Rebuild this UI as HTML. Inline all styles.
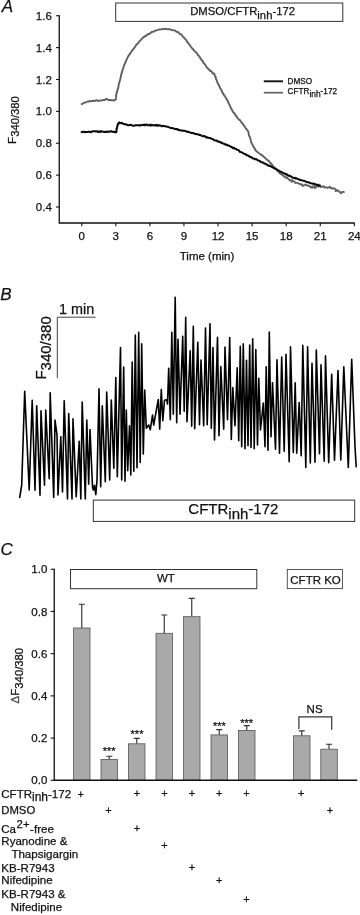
<!DOCTYPE html>
<html lang="en">
<head>
<meta charset="utf-8">
<title>Figure</title>
<style>
html,body{margin:0;padding:0;background:#fff;}
body{width:360px;height:915px;overflow:hidden;}
svg{display:block;}
svg text{font-family:'Liberation Sans', sans-serif;fill:#111;stroke:#111;stroke-width:0.25px;}
</style>
</head>
<body>
<svg width="360" height="915" viewBox="0 0 360 915">
<rect x="0" y="0" width="360" height="915" fill="#ffffff"/>
<g id="panelA">
<text x="1.65" y="11.7" font-size="17" text-anchor="start" font-style="italic">A</text>
<path d="M59.25,15.23 V223.0 H354.82" fill="none" stroke="#111" stroke-width="1.3"/>
<line x1="56.05" y1="15.73" x2="59.25" y2="15.73" stroke="#111" stroke-width="1.1"/>
<text x="51.8" y="19.83" font-size="11.5" text-anchor="end">1.6</text>
<line x1="56.05" y1="47.61" x2="59.25" y2="47.61" stroke="#111" stroke-width="1.1"/>
<text x="51.8" y="51.71" font-size="11.5" text-anchor="end">1.4</text>
<line x1="56.05" y1="79.49" x2="59.25" y2="79.49" stroke="#111" stroke-width="1.1"/>
<text x="51.8" y="83.59" font-size="11.5" text-anchor="end">1.2</text>
<line x1="56.05" y1="111.37" x2="59.25" y2="111.37" stroke="#111" stroke-width="1.1"/>
<text x="51.8" y="115.47" font-size="11.5" text-anchor="end">1.0</text>
<line x1="56.05" y1="143.25" x2="59.25" y2="143.25" stroke="#111" stroke-width="1.1"/>
<text x="51.8" y="147.35" font-size="11.5" text-anchor="end">0.8</text>
<line x1="56.05" y1="175.13" x2="59.25" y2="175.13" stroke="#111" stroke-width="1.1"/>
<text x="51.8" y="179.23" font-size="11.5" text-anchor="end">0.6</text>
<line x1="56.05" y1="207.01" x2="59.25" y2="207.01" stroke="#111" stroke-width="1.1"/>
<text x="51.8" y="211.11" font-size="11.5" text-anchor="end">0.4</text>
<line x1="81.75" y1="223.0" x2="81.75" y2="226.2" stroke="#111" stroke-width="1.1"/>
<text x="81.75" y="240.0" font-size="11.5" text-anchor="middle">0</text>
<line x1="115.82" y1="223.0" x2="115.82" y2="226.2" stroke="#111" stroke-width="1.1"/>
<text x="115.82" y="240.0" font-size="11.5" text-anchor="middle">3</text>
<line x1="149.89" y1="223.0" x2="149.89" y2="226.2" stroke="#111" stroke-width="1.1"/>
<text x="149.89" y="240.0" font-size="11.5" text-anchor="middle">6</text>
<line x1="183.96" y1="223.0" x2="183.96" y2="226.2" stroke="#111" stroke-width="1.1"/>
<text x="183.96" y="240.0" font-size="11.5" text-anchor="middle">9</text>
<line x1="218.03" y1="223.0" x2="218.03" y2="226.2" stroke="#111" stroke-width="1.1"/>
<text x="218.03" y="240.0" font-size="11.5" text-anchor="middle">12</text>
<line x1="252.10" y1="223.0" x2="252.10" y2="226.2" stroke="#111" stroke-width="1.1"/>
<text x="252.10" y="240.0" font-size="11.5" text-anchor="middle">15</text>
<line x1="286.18" y1="223.0" x2="286.18" y2="226.2" stroke="#111" stroke-width="1.1"/>
<text x="286.18" y="240.0" font-size="11.5" text-anchor="middle">18</text>
<line x1="320.25" y1="223.0" x2="320.25" y2="226.2" stroke="#111" stroke-width="1.1"/>
<text x="320.25" y="240.0" font-size="11.5" text-anchor="middle">21</text>
<line x1="354.32" y1="223.0" x2="354.32" y2="226.2" stroke="#111" stroke-width="1.1"/>
<text x="354.32" y="240.0" font-size="11.5" text-anchor="middle">24</text>
<text x="207" y="260" font-size="11.5" text-anchor="middle">Time (min)</text>
<g transform="translate(15.5,143.9) rotate(-90)">
<text x="0" y="0" font-size="11.5">F<tspan dy="3.8" font-size="11.25">340/380</tspan></text>
</g>
<rect x="115.7" y="3.0" width="227.1" height="18.4" fill="#fff" stroke="#333" stroke-width="1"/>
<text x="190.2" y="15" font-size="11.3">DMSO/CFTR<tspan dy="3.8">inh</tspan><tspan dy="-3.8">-172</tspan></text>
<line x1="263.8" y1="81.3" x2="283" y2="81.3" stroke="#111" stroke-width="1.9"/>
<line x1="263.8" y1="92.7" x2="283" y2="92.7" stroke="#626262" stroke-width="1.7"/>
<text x="287.6" y="84.4" font-size="8.2" text-anchor="start">DMSO</text>
<text x="287.6" y="94.4" font-size="8.2">CFTR<tspan dy="3" font-size="8.4">inh</tspan><tspan dy="-3">-172</tspan></text>
<polyline points="81.76,104.13 82.76,103.57 83.97,102.72 85.10,102.58 85.74,102.49 86.76,102.00 87.57,101.46 88.62,101.47 89.67,101.00 90.80,101.23 91.98,101.13 93.01,100.75 93.99,101.15 95.09,100.75 95.95,100.30 96.94,100.14 97.83,101.03 98.74,100.84 100.21,100.39 101.39,100.52 102.63,100.18 103.43,99.94 104.38,99.99 105.28,99.82 106.03,98.67 106.76,99.02 107.73,99.58 108.72,100.34 110.03,99.90 111.05,100.28 111.98,100.30 113.08,100.16 113.99,100.61 115.22,99.78 115.98,99.28 115.85,98.09 115.97,97.49 116.16,95.94 116.22,94.94 116.46,93.83 116.95,92.61 116.50,92.24 117.14,91.48 117.36,90.41 117.65,89.84 117.79,88.52 118.30,87.89 118.18,87.52 118.62,85.73 118.61,85.09 118.88,83.77 119.05,83.03 119.56,82.14 119.49,81.56 119.89,80.71 120.26,79.49 120.32,78.62 120.43,77.93 120.96,76.87 120.99,75.83 121.16,74.76 121.45,73.87 121.70,72.78 122.04,72.39 122.11,70.81 122.50,70.96 122.66,69.61 122.93,69.07 123.14,68.30 123.46,67.40 123.75,66.18 123.95,65.17 124.47,64.70 124.90,63.42 125.30,63.05 125.61,61.74 125.95,61.24 126.44,59.85 126.79,59.11 127.03,58.75 127.60,57.28 128.01,56.90 128.42,55.96 129.08,54.71 129.54,54.72 130.06,53.35 130.54,52.74 131.07,52.43 131.53,51.27 131.93,51.01 132.39,50.15 133.19,49.14 134.04,48.46 134.63,47.05 134.73,47.17 135.70,46.00 136.24,44.74 136.80,44.22 137.47,44.02 138.13,43.14 138.67,42.18 139.39,41.51 140.15,40.61 140.85,39.86 141.38,39.21 142.07,38.76 142.55,38.22 143.26,37.10 143.92,37.20 144.92,36.07 145.83,36.26 146.46,35.16 147.45,34.66 148.18,33.92 149.40,34.05 150.39,32.86 151.11,32.63 151.83,31.77 153.09,31.79 153.98,31.60 154.88,30.91 156.00,30.43 157.06,30.20 158.03,29.93 159.23,29.46 160.12,29.43 160.96,29.39 161.90,29.40 162.90,28.80 164.04,29.10 165.11,29.02 165.98,28.61 167.07,29.14 167.89,29.49 169.02,29.06 170.05,29.10 170.89,29.82 171.81,29.91 172.84,30.32 173.91,30.35 174.82,30.40 175.95,31.18 176.45,31.86 177.61,32.01 178.50,32.35 179.16,33.54 180.16,34.13 180.58,33.93 181.48,34.75 182.13,35.51 182.98,36.85 183.64,37.33 184.29,37.95 185.05,38.82 185.61,39.40 186.34,40.39 186.83,41.48 187.12,41.36 187.93,42.52 188.34,43.34 188.90,43.84 189.43,44.83 190.00,45.05 190.72,46.54 191.04,46.90 191.88,48.00 192.50,48.92 193.13,48.89 193.67,50.10 194.30,50.81 195.12,51.43 195.75,51.98 196.25,52.63 196.80,53.12 197.43,54.05 197.95,55.20 198.80,55.83 199.54,57.00 200.13,57.32 200.38,58.45 201.15,59.27 201.72,60.21 202.19,60.81 202.67,60.70 203.28,62.62 203.69,63.25 204.36,63.60 205.01,64.56 205.51,65.32 206.30,66.31 206.78,67.31 207.73,68.35 207.96,68.46 208.53,69.30 209.44,69.62 209.81,70.81 210.83,71.14 211.47,71.24 212.17,72.67 213.02,73.72 213.61,73.20 214.55,74.32 214.87,75.60 215.24,76.71 215.66,76.67 215.83,78.66 216.12,79.23 216.49,79.71 217.02,81.03 217.14,81.88 217.34,82.28 218.02,83.35 218.21,84.30 218.79,85.39 219.28,85.75 219.53,86.63 219.97,87.94 220.61,88.74 220.88,89.09 221.36,89.90 221.70,90.33 222.03,92.10 222.38,92.05 222.98,93.80 223.67,93.99 223.94,94.87 224.39,95.71 224.96,96.06 225.43,97.22 225.90,97.76 226.61,99.47 226.97,99.57 227.56,100.43 227.78,101.74 228.13,101.93 228.55,102.71 228.97,103.97 229.55,104.82 229.75,105.07 230.12,105.99 230.49,107.39 230.90,107.86 231.16,108.74 231.76,109.22 232.19,110.51 232.55,110.87 233.11,112.21 233.82,112.65 234.30,113.34 234.79,113.52 235.28,114.93 235.58,115.75 236.33,115.79 236.82,116.91 237.44,117.87 237.97,118.43 238.78,119.47 239.38,119.93 240.08,120.15 240.74,121.41 241.10,122.12 241.65,122.39 242.46,123.52 243.14,124.23 243.44,124.96 244.36,126.01 244.63,126.45 245.12,127.45 245.85,128.60 246.49,129.08 246.82,129.49 247.17,130.19 248.05,131.15 248.29,131.71 248.61,133.07 248.76,133.97 248.73,134.54 249.14,136.12 249.48,136.29 249.85,136.99 250.17,137.96 250.24,138.76 250.60,139.25 250.83,140.52 251.01,141.29 251.28,142.56 251.78,143.39 252.23,144.39 252.57,144.53 252.91,145.89 253.48,146.79 253.98,146.97 254.54,148.65 254.86,148.58 255.24,149.93 255.73,150.33 256.33,151.25 257.05,151.62 257.74,152.36 258.61,153.02 259.32,153.48 260.21,153.93 261.01,154.74 261.74,154.99 262.38,155.60 263.18,156.05 263.79,156.95 264.89,157.55 265.29,158.19 265.90,158.72 266.59,159.14 267.39,160.04 268.04,160.37 268.78,160.92 269.46,161.83 269.98,162.85 270.66,162.91 271.17,164.09 271.69,163.94 272.42,165.33 273.10,166.05 273.67,166.78 274.44,167.53 274.95,167.95 275.63,168.69 276.29,168.79 276.93,170.07 277.54,171.16 278.35,171.41 278.94,172.69 279.79,173.00 280.31,173.87 281.17,174.07 281.79,174.34 282.58,175.17 283.43,175.87 284.09,176.61 285.03,176.66 285.82,177.86 286.61,177.20 287.44,177.92 288.20,179.03 289.15,179.37 289.60,180.21 290.79,180.14 291.70,181.92 292.19,180.19 293.52,181.06 294.48,181.33 294.88,182.80 296.22,182.85 297.11,182.80 297.89,183.05 299.30,183.88 300.00,183.94 301.14,184.68 301.84,184.14 302.89,185.96 303.81,185.38 304.32,185.35 305.29,184.42 306.41,185.20 307.54,185.72 308.49,185.49 309.99,186.23 310.47,187.46 311.48,186.84 312.26,187.86 312.87,186.43 314.10,186.04 314.81,188.17 315.89,187.35 317.16,186.31 318.06,186.38 318.74,186.34 319.99,186.01 320.78,186.97 322.15,186.89 322.79,186.09 323.55,186.22 324.74,187.57 325.84,187.17 326.47,187.45 327.53,187.85 328.79,187.31 329.87,186.69 329.89,187.26 331.01,188.24 332.68,188.18 333.39,188.60 334.10,188.42 335.54,189.23 335.75,191.07 336.83,190.43 337.64,190.15 338.23,191.00 339.85,191.82 340.32,192.67 341.03,193.32 342.50,191.63 343.91,192.06" fill="none" stroke="#606060" stroke-width="1.9" stroke-linejoin="round" stroke-linecap="round"/>
<polyline points="81.63,132.21 82.86,131.84 83.82,131.77 84.99,132.30 86.05,132.04 87.00,132.01 87.93,132.04 88.87,131.80 90.07,131.80 90.96,132.23 92.01,131.42 93.02,131.33 93.96,131.27 95.20,131.26 96.02,131.48 97.20,131.31 97.94,132.04 98.85,131.39 100.07,132.11 100.91,130.99 101.99,131.49 102.82,131.76 103.81,131.74 104.67,132.01 105.79,131.72 106.53,131.91 107.55,131.49 108.35,131.98 109.29,131.61 110.22,131.65 111.10,131.15 112.17,131.65 112.97,131.88 114.16,131.68 115.29,132.28 116.31,132.15 116.63,130.56 116.52,130.07 116.57,128.87 117.03,128.26 117.16,126.53 117.54,126.14 117.58,125.12 117.91,123.81 118.55,123.81 119.17,122.44 120.14,122.98 121.13,123.23 121.87,122.72 123.02,123.82 124.12,123.97 124.94,124.35 125.84,124.24 126.90,124.82 128.21,125.19 129.01,125.16 129.83,125.09 130.67,124.69 131.48,125.08 132.58,125.67 133.53,125.84 134.30,125.66 135.45,125.35 136.28,125.26 136.92,125.28 137.92,125.23 138.95,125.25 139.79,125.66 141.14,125.03 141.91,125.09 143.07,125.16 144.04,124.54 144.89,125.34 146.02,124.62 146.91,124.64 147.90,125.30 148.98,125.28 150.02,124.62 150.84,125.63 151.74,124.82 152.85,125.16 153.64,125.55 154.37,125.33 155.35,124.92 156.28,125.61 157.26,124.90 158.07,125.80 159.20,125.18 160.25,125.41 160.79,125.65 161.91,126.28 162.83,125.94 163.58,125.86 164.54,126.26 165.48,126.27 166.31,126.55 167.15,126.65 168.08,126.83 169.15,127.34 169.86,127.63 170.94,128.10 171.80,127.90 172.66,128.21 173.69,128.45 174.52,128.78 175.46,128.93 176.27,129.14 177.17,129.10 178.20,130.08 179.19,129.77 179.98,130.25 181.05,130.54 181.80,130.50 182.69,130.61 183.55,130.85 184.33,130.83 185.50,131.13 186.42,131.26 187.23,131.92 188.08,131.86 189.34,132.10 189.93,132.35 190.91,132.72 191.92,133.16 192.69,133.09 193.49,133.03 194.47,133.82 195.47,134.07 196.46,134.05 197.49,134.18 198.12,134.44 199.21,134.74 199.92,135.11 201.02,135.27 201.79,135.87 202.83,136.13 203.56,136.25 204.58,136.02 205.58,136.80 206.33,137.65 207.29,137.18 208.18,137.80 209.17,137.94 209.91,138.07 210.83,138.34 211.82,138.84 212.73,139.12 213.55,139.64 214.51,140.34 215.36,140.46 216.36,140.43 217.35,141.17 217.97,141.64 219.19,141.64 220.17,142.24 220.76,142.67 221.71,142.52 222.41,143.25 223.42,143.68 224.41,143.72 225.20,144.63 226.30,144.70 226.96,144.59 227.84,145.59 228.80,145.43 229.50,145.99 230.41,146.40 231.45,147.12 232.26,147.21 233.15,148.21 234.04,147.84 235.03,148.71 236.10,148.98 236.62,149.47 237.54,149.85 238.18,149.97 239.15,150.79 239.94,151.91 240.91,152.11 241.62,152.37 242.48,152.70 243.41,153.36 244.20,153.70 244.85,153.94 245.87,154.49 246.59,155.13 247.41,155.33 248.42,155.79 249.31,156.40 250.08,156.94 250.61,157.01 251.54,157.30 252.49,158.12 253.33,158.60 254.11,158.55 255.01,159.19 255.83,159.18 256.63,159.36 257.63,160.29 258.38,160.55 259.11,160.76 260.08,161.05 260.75,162.07 261.82,162.16 262.55,162.55 263.48,162.80 264.18,163.46 265.15,163.69 265.86,164.04 266.60,164.42 267.51,165.22 268.26,165.26 269.13,165.92 270.07,165.93 270.87,166.42 271.74,166.84 272.39,167.32 273.33,167.66 274.19,168.36 275.01,168.81 275.92,168.97 276.67,169.56 277.29,170.08 278.26,170.21 279.12,170.83 280.03,171.34 280.76,171.81 281.71,171.95 282.50,172.66 283.38,173.05 284.18,173.57 285.22,173.81 285.67,174.51 286.61,174.11 287.26,174.94 288.44,175.47 289.13,175.96 289.99,175.83 290.84,176.41 291.67,176.83 292.28,177.50 293.28,177.65 294.09,177.91 294.98,177.85 295.93,178.68 296.67,178.26 297.61,178.84 298.58,179.32 299.63,179.75 300.33,179.90 300.96,179.90 302.05,180.37 303.07,180.71 304.02,180.76 304.85,181.16 305.72,181.54 306.58,181.79 307.50,182.26 308.38,182.34 309.55,182.69 310.23,183.07 310.97,183.25 312.04,183.45 312.95,183.80 313.87,183.71 314.69,184.01 315.66,184.44 316.30,184.71 317.22,185.19 318.18,184.67 319.07,185.74 320.03,185.59" fill="none" stroke="#0a0a0a" stroke-width="2.05" stroke-linejoin="round" stroke-linecap="round"/>
</g>
<g id="panelB">
<text x="0.3" y="300.2" font-size="17" text-anchor="start" font-style="italic">B</text>
<path d="M95.6,317.2 H57.3 V378.2" fill="none" stroke="#444" stroke-width="1"/>
<text x="59.0" y="313.9" font-size="14.4" text-anchor="start">1 min</text>
<g transform="translate(46.1,379.6) rotate(-90)">
<text x="0" y="0" font-size="15">F<tspan dy="5.3" font-size="15">340/380</tspan></text>
</g>
<polyline points="19.70,497.50 21.70,485.00 24.70,391.30 29.20,490.00 32.20,400.30 35.00,490.30 36.70,405.80 40.00,495.30 41.00,410.80 44.50,485.30 45.70,410.00 49.20,478.80 50.20,392.80 53.70,497.50 55.00,420.00 57.00,435.00 58.00,495.00 60.80,436.70 62.50,492.00 64.20,400.80 67.50,499.00 68.70,413.50 72.00,499.00 73.00,418.70 76.20,496.70 79.20,441.30 80.80,499.00 82.20,402.00 85.30,499.00 86.80,420.00 88.70,484.20 90.00,429.50 92.50,486.70 93.30,490.00 94.50,485.30 95.80,494.70 97.00,480.00 99.00,388.70 100.70,486.70 102.30,405.80 105.30,481.70 106.70,392.00 109.70,480.00 111.30,400.00 113.80,468.30 115.80,377.50 117.30,476.70 120.50,347.50 121.70,480.00 123.70,367.00 125.00,481.20 126.30,410.00 127.70,470.80 129.50,425.80 130.80,475.00 132.20,362.00 133.80,471.30 135.30,335.00 137.00,467.80 138.70,332.20 140.20,462.50 141.70,343.80 143.30,454.00 144.70,390.00 146.30,428.30 148.70,425.00 150.30,429.70 152.50,415.00 153.70,425.00 158.30,399.50 159.70,429.20 161.30,389.60 162.80,420.80 164.50,400.30 166.70,399.70 167.50,404.00 168.70,368.20 170.30,419.70 171.80,332.20 173.30,414.20 175.20,297.20 176.70,422.80 178.00,339.20 180.00,414.20 182.70,336.20 184.20,411.30 185.70,317.20 187.00,421.70 190.20,350.80 191.70,426.30 193.30,326.20 194.70,428.80 197.80,342.20 199.50,424.70 201.00,360.00 203.70,425.80 205.50,328.00 207.20,424.70 210.00,323.80 211.30,428.30 213.00,347.50 214.50,440.00 217.50,337.20 219.00,435.80 220.80,366.50 223.70,429.20 225.00,347.00 227.50,419.70 229.70,337.50 231.30,439.50 232.80,387.50 235.00,425.80 237.20,367.80 238.70,440.80 240.30,346.30 241.70,446.70 243.30,343.70 245.00,448.70 246.50,360.30 248.00,445.80 249.70,345.00 251.00,447.50 252.70,338.70 254.20,448.70 255.80,349.50 257.50,445.00 258.80,378.30 260.50,430.00 263.30,403.00 265.00,446.70 266.20,366.70 268.00,450.30 269.30,332.00 271.00,436.70 272.50,382.80 275.50,449.20 277.00,359.70 279.50,453.30 281.70,357.00 284.20,451.30 286.00,354.20 289.20,461.70 290.50,346.70 293.30,452.50 295.20,382.80 296.70,453.30 299.20,402.50 301.20,455.80 302.80,345.40 305.80,467.50 307.60,346.80 310.30,463.00 312.00,363.30 315.00,462.20 316.30,350.00 319.50,453.80 321.00,364.70 324.20,461.20 325.50,355.80 328.70,462.80 331.70,374.20 334.50,460.20 338.00,370.50 340.80,460.00 343.80,366.70 348.30,467.50 351.70,359.20 355.00,446.70 356.20,466.70" fill="none" stroke="#000" stroke-width="1.6" stroke-linejoin="round" stroke-linecap="round"/>
<rect x="93.3" y="500.1" width="261.4" height="21.3" fill="#fff" stroke="#333" stroke-width="1"/>
<text x="188.3" y="514.4" font-size="15">CFTR<tspan dy="4.3">inh</tspan><tspan dy="-4.3">-172</tspan></text>
</g>
<g id="panelC">
<text x="0.5" y="554.8" font-size="17" text-anchor="start" font-style="italic">C</text>
<line x1="54.25" y1="568.75" x2="54.25" y2="780.3" stroke="#111" stroke-width="1.3"/>
<line x1="50.65" y1="569.25" x2="54.25" y2="569.25" stroke="#111" stroke-width="1.1"/>
<text x="47.3" y="573.35" font-size="11.5" text-anchor="end">1.0</text>
<line x1="50.65" y1="611.46" x2="54.25" y2="611.46" stroke="#111" stroke-width="1.1"/>
<text x="47.3" y="615.56" font-size="11.5" text-anchor="end">0.8</text>
<line x1="50.65" y1="653.67" x2="54.25" y2="653.67" stroke="#111" stroke-width="1.1"/>
<text x="47.3" y="657.77" font-size="11.5" text-anchor="end">0.6</text>
<line x1="50.65" y1="695.88" x2="54.25" y2="695.88" stroke="#111" stroke-width="1.1"/>
<text x="47.3" y="699.98" font-size="11.5" text-anchor="end">0.4</text>
<line x1="50.65" y1="738.09" x2="54.25" y2="738.09" stroke="#111" stroke-width="1.1"/>
<text x="47.3" y="742.19" font-size="11.5" text-anchor="end">0.2</text>
<line x1="50.65" y1="780.30" x2="54.25" y2="780.30" stroke="#111" stroke-width="1.1"/>
<text x="47.3" y="784.40" font-size="11.5" text-anchor="end">0.0</text>
<g transform="translate(18.9,703.4) rotate(-90)">
<text x="0" y="0" font-size="11.5"><tspan fill="#666">&#916;</tspan>F<tspan dy="4" font-size="11.3">340/380</tspan></text>
</g>
<rect x="70.5" y="569.5" width="186.3" height="19.2" fill="#fff" stroke="#333" stroke-width="1"/>
<text x="157.0" y="582.3" font-size="11.5" text-anchor="start">WT</text>
<rect x="287.3" y="569.5" width="55.1" height="19.1" fill="#fff" stroke="#444" stroke-width="0.9"/>
<text x="290.3" y="584.0" font-size="11.5" text-anchor="start">CFTR KO</text>
<path d="M81.75,628.00 V604.25 M78.75,604.25 H84.75" fill="none" stroke="#333" stroke-width="1.15"/>
<rect x="73.50" y="628.00" width="16.5" height="152.30" fill="#a9a9a9" stroke="#555" stroke-width="0.8"/>
<path d="M109.25,759.50 V756.20 M106.25,756.20 H112.25" fill="none" stroke="#333" stroke-width="1.15"/>
<rect x="101.00" y="759.50" width="16.5" height="20.80" fill="#a9a9a9" stroke="#555" stroke-width="0.8"/>
<path d="M136.75,743.80 V738.30 M133.75,738.30 H139.75" fill="none" stroke="#333" stroke-width="1.15"/>
<rect x="128.50" y="743.80" width="16.5" height="36.50" fill="#a9a9a9" stroke="#555" stroke-width="0.8"/>
<path d="M164.25,633.30 V615.00 M161.25,615.00 H167.25" fill="none" stroke="#333" stroke-width="1.15"/>
<rect x="156.00" y="633.30" width="16.5" height="147.00" fill="#a9a9a9" stroke="#555" stroke-width="0.8"/>
<path d="M191.75,616.70 V598.30 M188.75,598.30 H194.75" fill="none" stroke="#333" stroke-width="1.15"/>
<rect x="183.50" y="616.70" width="16.5" height="163.60" fill="#a9a9a9" stroke="#555" stroke-width="0.8"/>
<path d="M219.25,734.90 V729.60 M216.25,729.60 H222.25" fill="none" stroke="#333" stroke-width="1.15"/>
<rect x="211.00" y="734.90" width="16.5" height="45.40" fill="#a9a9a9" stroke="#555" stroke-width="0.8"/>
<path d="M246.75,730.40 V725.60 M243.75,725.60 H249.75" fill="none" stroke="#333" stroke-width="1.15"/>
<rect x="238.50" y="730.40" width="16.5" height="49.90" fill="#a9a9a9" stroke="#555" stroke-width="0.8"/>
<path d="M301.75,735.80 V730.80 M298.75,730.80 H304.75" fill="none" stroke="#333" stroke-width="1.15"/>
<rect x="293.50" y="735.80" width="16.5" height="44.50" fill="#a9a9a9" stroke="#555" stroke-width="0.8"/>
<path d="M329.05,749.20 V744.20 M326.05,744.20 H332.05" fill="none" stroke="#333" stroke-width="1.15"/>
<rect x="320.80" y="749.20" width="16.5" height="31.10" fill="#a9a9a9" stroke="#555" stroke-width="0.8"/>
<line x1="53.75" y1="780.3" x2="357.2" y2="780.3" stroke="#111" stroke-width="1.4"/>
<text x="109.2" y="755.3" font-size="11" text-anchor="middle" stroke="none">***</text>
<text x="137.0" y="738.4" font-size="11" text-anchor="middle" stroke="none">***</text>
<text x="219.4" y="730.1" font-size="11" text-anchor="middle" stroke="none">***</text>
<text x="246.7" y="727.2" font-size="11" text-anchor="middle" stroke="none">***</text>
<path d="M298.9,729 V716.9 H331.7 V729.7" fill="none" stroke="#333" stroke-width="1.2"/>
<text x="314.6" y="712.8" font-size="11.5" text-anchor="middle">NS</text>
<text x="1.3" y="798" font-size="11.5">CFTR<tspan dy="3.3" font-size="12">inh</tspan><tspan dy="-3.3" font-size="11.6">-172</tspan></text>
<text x="1.3" y="814.25" font-size="11.3" text-anchor="start">DMSO</text>
<text x="1.3" y="833" font-size="11.5">Ca<tspan dy="-5.5" dx="0.6" font-size="11.3">2+</tspan><tspan dy="5.5" dx="0.6" font-size="11.6">-free</tspan></text>
<text x="1.3" y="845.2" font-size="11.55" text-anchor="start">Ryanodine &amp;</text>
<text x="11.4" y="857.5" font-size="11.55" text-anchor="start">Thapsigargin</text>
<text x="1.3" y="871.7" font-size="11.55" text-anchor="start">KB-R7943</text>
<text x="1.3" y="884.2" font-size="11.55" text-anchor="start">Nifedipine</text>
<text x="1.3" y="898.3" font-size="11.55" text-anchor="start">KB-R7943 &amp;</text>
<text x="10.8" y="910.7" font-size="11.55" text-anchor="start">Nifedipine</text>
<text x="80.7" y="797.8" font-size="11" text-anchor="middle">+</text>
<text x="136.9" y="797.4" font-size="11" text-anchor="middle">+</text>
<text x="164.4" y="797.4" font-size="11" text-anchor="middle">+</text>
<text x="192.0" y="797.4" font-size="11" text-anchor="middle">+</text>
<text x="219.1" y="797.4" font-size="11" text-anchor="middle">+</text>
<text x="246.4" y="797.4" font-size="11" text-anchor="middle">+</text>
<text x="301.2" y="797.4" font-size="11" text-anchor="middle">+</text>
<text x="108.5" y="814.1" font-size="11" text-anchor="middle">+</text>
<text x="330.0" y="814.1" font-size="11" text-anchor="middle">+</text>
<text x="136.9" y="831.9" font-size="11" text-anchor="middle">+</text>
<text x="164.4" y="849.2" font-size="11" text-anchor="middle">+</text>
<text x="192.0" y="871.0" font-size="11" text-anchor="middle">+</text>
<text x="219.1" y="883.9" font-size="11" text-anchor="middle">+</text>
<text x="246.4" y="903.0" font-size="11" text-anchor="middle">+</text>
</g>
</svg>
</body>
</html>
